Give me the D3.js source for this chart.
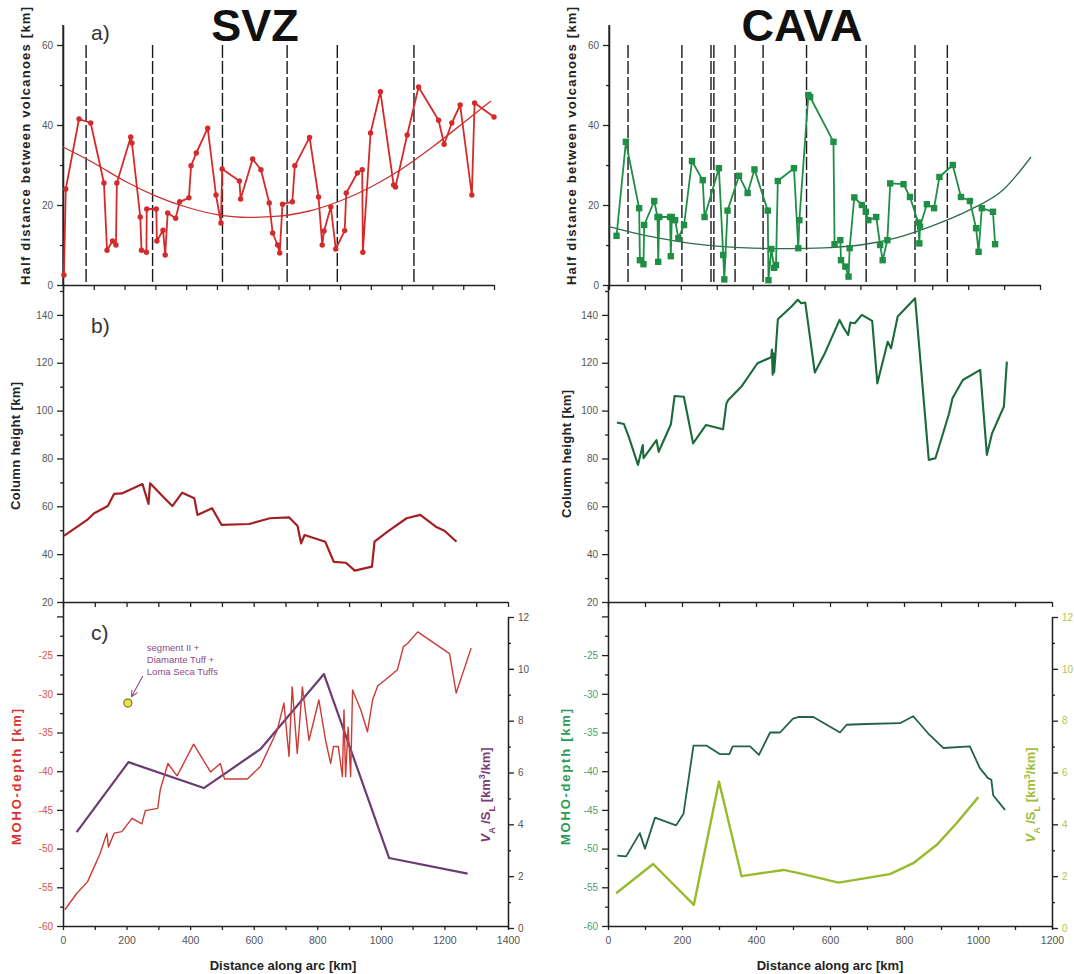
<!DOCTYPE html>
<html><head><meta charset="utf-8">
<script src="https://cdn.jsdelivr.net/npm/d3@7"></script>
<style>
body{margin:0;background:#fff}
svg{display:block}
text{font-family:"Liberation Sans",Arial,Helvetica,sans-serif}
</style>
</head><body>
<svg id="chart" width="1074" height="974"></svg>
<script>
// ---------------- DATA ----------------
// a) half distance between volcanoes [km]
const svzHalfKm  = [3, 9, 52, 90, 133, 143, 161, 172, 175, 220, 224, 251, 255, 271, 272, 303, 305, 325, 332, 340, 366, 379, 409, 416, 433, 470, 497, 513, 517, 573, 577, 616, 643, 670, 681, 697, 704, 713, 745, 753, 801, 830, 842, 848, 870, 886, 915, 920, 956, 972, 974, 999, 1031, 1074, 1080, 1118, 1155, 1220, 1238, 1263, 1290, 1328, 1337, 1400];
const svzHalfVal = [2.5, 24, 41.5, 40.5, 25.5, 8.7, 11, 10, 25.5, 37, 35.5, 17, 8.7, 8.2, 19, 19, 11, 13.7, 7.5, 18, 16.7, 20.8, 21.8, 29.8, 33, 39.2, 22.5, 15.5, 29, 26, 21.5, 31.5, 28.8, 20.5, 13, 10, 8, 20.2, 20.8, 29.8, 36.9, 22, 10, 13.5, 19.5, 9, 13.6, 23, 28, 28.8, 8.2, 38, 48.3, 25, 24.5, 37.5, 49.5, 41.2, 35.2, 40.5, 45, 22.5, 45.5, 42];
const svzTrendKm  = [0, 100, 200, 300, 400, 500, 600, 700, 800, 900, 1000, 1100, 1200, 1300, 1390];
const svzTrendVal = [34.5, 30.5, 26, 22.3, 19.5, 17.6, 16.9, 17.2, 18.5, 21, 24.5, 29, 34.5, 40.5, 46];
const svzSegKm = [75, 291, 518, 728, 891, 1140];

const cavaHalfKm  = [21, 47, 84, 86, 96, 98, 126, 135, 137, 140, 170, 172, 175, 184, 193, 209, 231, 261, 266, 306, 318, 321, 330, 362, 386, 405, 442, 444, 452, 460, 465, 470, 515, 527, 530, 555, 560, 625, 628, 644, 646, 658, 667, 670, 683, 704, 715, 722, 744, 755, 762, 775, 783, 820, 838, 861, 864, 866, 885, 905, 920, 957, 980, 1005, 1022, 1029, 1038, 1069, 1075];
const cavaHalfVal = [12.3, 35.8, 19.2, 6.2, 5.2, 15, 21, 17, 5.8, 17, 17, 7.2, 17, 16.2, 11.7, 15, 31, 26.2, 17, 29.2, 7.5, 1.4, 18.6, 27.3, 23, 28.9, 18.6, 1.2, 9, 4.3, 5, 26, 29.2, 9.2, 16.2, 47.5, 47, 35.8, 10.2, 11.2, 6.2, 4.6, 2.1, 9.2, 21.9, 20, 18.3, 16.2, 17, 10, 6.2, 11.2, 25.4, 25.2, 22, 15.6, 10.4, 14.6, 20.2, 19.2, 27, 30, 22, 21, 14.2, 8.3, 19.2, 18.3, 10.2];
const cavaTrendKm  = [0, 100, 200, 300, 400, 500, 600, 700, 800, 900, 1000, 1100, 1175];
const cavaTrendVal = [14.6, 12.4, 10.8, 9.7, 9.2, 9.1, 9.3, 10, 11.8, 14.8, 18.6, 24, 32];
const cavaSegKm = [53, 203, 284, 292, 351, 429, 550, 716, 852, 942];

// b) column height [km]
const svzColKm  = [3, 76, 98, 141, 161, 185, 250, 269, 274, 315, 344, 375, 413, 423, 469, 499, 586, 651, 711, 738, 749, 760, 825, 852, 890, 918, 972, 980, 1021, 1081, 1124, 1173, 1200, 1238];
const svzColVal = [47.6, 54.3, 57.1, 60.1, 65.2, 65.4, 69.3, 61, 69.6, 64, 60.1, 65.7, 63.4, 56.4, 59.2, 52.2, 52.6, 55, 55.4, 51.8, 44.5, 48, 45.2, 36.8, 36.4, 33.1, 34.8, 45.2, 49.4, 55, 56.4, 51.5, 49.8, 45.2];
const cavaColKm  = [24, 43, 56, 81, 94, 96, 131, 137, 170, 180, 205, 230, 265, 311, 320, 325, 362, 404, 441, 443, 445, 447, 449, 452, 459, 496, 513, 522, 533, 559, 584, 626, 635, 649, 655, 667, 686, 714, 728, 756, 765, 783, 830, 867, 885, 922, 931, 959, 1006, 1024, 1038, 1070, 1078];
const cavaColVal = [95, 94.4, 89.1, 77.3, 85.6, 80.1, 87.7, 82.8, 94.3, 106.1, 105.8, 86.3, 94, 92.2, 103, 104.4, 110.3, 119.8, 122.3, 125.5, 115, 124, 116, 122, 138.2, 143.5, 146.3, 144.9, 145.2, 115.9, 123.3, 137.9, 135.1, 131.6, 136.8, 136.5, 140, 137.5, 111.4, 128.8, 126, 139.3, 147, 79.4, 80.1, 98.9, 105.2, 112.8, 117, 81.5, 90.5, 101.7, 120.5];

// c) MOHO depth [km] and VA/SL [km3/km]
const svzMohoKm  = [6, 43, 77, 101, 117, 138, 143, 161, 185, 217, 248, 259, 298, 306, 330, 359, 411, 464, 495, 508, 580, 621, 674, 695, 711, 721, 737, 753, 774, 805, 826, 842, 851, 866, 879, 884, 889, 897, 905, 911, 937, 958, 974, 990, 1026, 1052, 1071, 1084, 1116, 1216, 1237, 1284];
const svzMohoVal = [-57.9, -55.8, -54.3, -52.1, -50.6, -48, -49.8, -48, -47.8, -46.1, -46.8, -45.1, -44.8, -42.4, -39, -40.6, -36.5, -40.1, -39, -41, -41, -39.4, -34.7, -31.2, -38.1, -29.1, -37.7, -29.1, -36, -30.8, -36, -39, -36.8, -36.8, -40.7, -32.1, -40.7, -34.3, -40.7, -29.5, -32.1, -34.9, -30.8, -29, -27.8, -26.9, -23.9, -23.5, -22, -24.8, -29.9, -24.1];
const svzVaKm  = [43, 206, 443, 621, 821, 1026, 1273];
const svzVaVal = [3.7, 6.4, 5.4, 6.9, 9.8, 2.7, 2.1];
const svzMarkerKm = [204];
const svzMarkerMoho = [-31.2];
const svzNote = ["segment II +", "Diamante Tuff +", "Loma Seca Tuffs"];

const cavaMohoKm  = [25, 49, 86, 100, 127, 184, 204, 231, 267, 303, 328, 337, 384, 408, 438, 465, 500, 514, 555, 627, 645, 699, 789, 825, 865, 906, 978, 1005, 1027, 1036, 1041, 1073];
const cavaMohoVal = [-50.9, -51, -48, -50, -46, -47, -45.5, -36.7, -36.7, -37.8, -37.8, -36.8, -36.8, -37.9, -35, -35, -33.2, -33, -33, -35, -34, -33.9, -33.8, -32.9, -35.1, -37, -36.8, -39.6, -40.9, -41.1, -43.1, -45];
const cavaVaKm  = [22, 122, 232, 300, 361, 474, 519, 623, 762, 825, 888, 942, 1001];
const cavaVaVal = [1.34, 2.47, 0.89, 5.65, 2.0, 2.24, 2.11, 1.75, 2.08, 2.5, 3.2, 4.04, 5.05];

// ticks
const halfTicks = [0, 20, 40, 60];
const halfMinor = [10, 30, 50];
const colTicks = [20, 40, 60, 80, 100, 120, 140];
const colMinor = [30, 50, 70, 90, 110, 130, 150];
const mohoTicks = [-60, -55, -50, -45, -40, -35, -30, -25, -20];
const mohoLabels = [-60, -55, -50, -45, -40, -35, -30, -25];
const mohoMinor = [-57.5, -52.5, -47.5, -42.5, -37.5, -32.5, -27.5, -22.5];
const vaTicks = [0, 2, 4, 6, 8, 10, 12];
const vaMinor = [1, 3, 5, 7, 9, 11];
const svzXTicks = [0, 200, 400, 600, 800, 1000, 1200, 1400];
const cavaXTicks = [0, 200, 400, 600, 800, 1000, 1200];
const svzXAll = d3.range(0, 1401, 100);
const cavaXAll = d3.range(0, 1201, 100);

// ---------------- DRAW ----------------
const svg = d3.select("#chart");
const FONT = '"Liberation Sans",Arial,Helvetica,sans-serif';
const AX = "#222";

// scales
const xSa = d3.scaleLinear().domain([0, 1400]).range([63, 494]);
const xSbc = d3.scaleLinear().domain([0, 1400]).range([63, 508]);
const xCa = d3.scaleLinear().domain([0, 1200]).range([609, 1040]);
const xCbc = d3.scaleLinear().domain([0, 1200]).range([608, 1052]);
const yA = d3.scaleLinear().domain([0, 65]).range([285, 25]);
const yB = d3.scaleLinear().domain([20, 152.5]).range([602, 285]);
const yC = d3.scaleLinear().domain([-60, -18.14]).range([926, 602]);
const yR = d3.scaleLinear().domain([0, 12]).range([928, 617]);

function styleAxis(g, color, size) {
  g.attr("font-family", FONT);
  g.selectAll("path.domain").attr("stroke", AX).attr("stroke-width", 1.3);
  g.selectAll(".tick line").attr("stroke", AX).attr("stroke-width", 1.3);
  g.selectAll(".tick text").attr("fill", color || "#555").style("font-size", (size || 10) + "px");
  return g;
}
function leftAxis(scale, x, majors, labels, minors, color) {
  styleAxis(svg.append("g").attr("transform", `translate(${x},0)`)
    .call(d3.axisLeft(scale).tickValues(majors).tickSize(6).tickSizeOuter(0).tickPadding(4)
      .tickFormat(d => labels.includes(d) ? String(d) : "")), color);
  styleAxis(svg.append("g").attr("transform", `translate(${x},0)`)
    .call(d3.axisLeft(scale).tickValues(minors).tickSize(3).tickSizeOuter(0).tickFormat("")));
}
function rightAxis(scale, x, majors, minors, color) {
  styleAxis(svg.append("g").attr("transform", `translate(${x},0)`)
    .call(d3.axisRight(scale).tickValues(majors).tickSize(6).tickSizeOuter(0).tickPadding(4)
      .tickFormat(d => String(d))), color);
  styleAxis(svg.append("g").attr("transform", `translate(${x},0)`)
    .call(d3.axisRight(scale).tickValues(minors).tickSize(3).tickSizeOuter(0).tickFormat("")));
}
function bottomAxis(scale, y, all, labels, color) {
  styleAxis(svg.append("g").attr("transform", `translate(0,${y})`)
    .call(d3.axisBottom(scale).tickValues(all).tickSize(labels ? 4 : 5).tickSizeOuter(0).tickPadding(7)
      .tickFormat(d => (labels && labels.includes(d)) ? String(d) : "")), color, 10.5);
}
function vTitle(txt, x, y, color, parts, len) {
  const t = svg.append("text").attr("transform", `translate(${x},${y}) rotate(-90)`)
    .attr("text-anchor", "middle").attr("font-weight", "bold").attr("font-size", 13)
    .attr("fill", color).attr("font-family", FONT);
  if (len) t.attr("textLength", len).attr("lengthAdjust", "spacing");
  if (parts) {
    parts.forEach(p => {
      const s = t.append("tspan").text(p.t);
      if (p.sub) s.attr("baseline-shift", "sub").attr("font-size", 9);
      if (p.sup) s.attr("baseline-shift", "super").attr("font-size", 9);
      if (p.it) s.attr("font-style", "italic");
    });
  } else t.text(txt);
}
const line = (xs, ys, curve) => d3.line().x(d => xs(d[0])).y(d => ys(d[1])).curve(curve || d3.curveLinear);

// ---- titles
svg.append("text").attr("x", 255).attr("y", 41).attr("text-anchor", "middle")
  .attr("font-size", 45).attr("font-weight", "bold").attr("fill", "#111").attr("font-family", FONT).text("SVZ");
svg.append("text").attr("x", 802).attr("y", 41).attr("text-anchor", "middle")
  .attr("font-size", 45).attr("font-weight", "bold").attr("fill", "#111").attr("font-family", FONT).text("CAVA");
[["a)", 91, 40], ["b)", 91, 333], ["c)", 91, 640]].forEach(([t, x, y]) =>
  svg.append("text").attr("x", x).attr("y", y).attr("font-size", 21).attr("fill", "#333")
    .attr("font-family", FONT).text(t));

// ---- panel a
function panelA(xs, segKm, km, val, tKm, tVal, color, trendColor, marker, axisX, ticks) {
  leftAxis(yA, axisX, halfTicks, halfTicks, halfMinor);
  svg.append("line").attr("x1", axisX).attr("x2", axisX).attr("y1", 25).attr("y2", yA(0)).attr("stroke", AX).attr("stroke-width", 1.3);
  bottomAxis(xs, 285, ticks, null);
  svg.selectAll(null).data(segKm).enter().append("line")
    .attr("x1", d => xs(d)).attr("x2", d => xs(d)).attr("y1", yA(60)).attr("y2", yA(0))
    .attr("stroke", "#1a1a1a").attr("stroke-width", 1.4).attr("stroke-dasharray", "13,3");
  svg.append("path").datum(d3.zip(tKm, tVal)).attr("d", line(xs, yA, d3.curveMonotoneX))
    .attr("fill", "none").attr("stroke", trendColor).attr("stroke-width", 1.3);
  svg.append("path").datum(d3.zip(km, val)).attr("d", line(xs, yA))
    .attr("fill", "none").attr("stroke", color).attr("stroke-width", 1.8).attr("stroke-linejoin", "round");
  const pts = d3.zip(km, val);
  if (marker === "circle") {
    svg.selectAll(null).data(pts).enter().append("circle")
      .attr("cx", d => xs(d[0])).attr("cy", d => yA(d[1])).attr("r", 2.7).attr("fill", color);
  } else {
    svg.selectAll(null).data(pts).enter().append("rect")
      .attr("x", d => xs(d[0]) - 3.2).attr("y", d => yA(d[1]) - 3.2).attr("width", 6.4).attr("height", 6.4).attr("fill", color);
  }
}
panelA(xSa, svzSegKm, svzHalfKm, svzHalfVal, svzTrendKm, svzTrendVal, "#d42a2a", "#cf3030", "circle", 63, svzXAll);
panelA(xCa, cavaSegKm, cavaHalfKm, cavaHalfVal, cavaTrendKm, cavaTrendVal, "#1f8f45", "#2f6b4c", "square", 609, cavaXAll);
vTitle("Half distance between volcanoes [km]", 30, 146, "#222", null, 278);
vTitle("Half distance between volcanoes [km]", 576, 146, "#222", null, 278);

// ---- panel b
leftAxis(yB, 63, colTicks, colTicks, colMinor);
leftAxis(yB, 608, colTicks, colTicks, colMinor);
bottomAxis(xSbc, 602, svzXAll, null);
bottomAxis(xCbc, 602, cavaXAll, null);
svg.append("path").datum(d3.zip(svzColKm, svzColVal)).attr("d", line(xSbc, yB))
  .attr("fill", "none").attr("stroke", "#a51f22").attr("stroke-width", 2.2).attr("stroke-linejoin", "round");
svg.append("path").datum(d3.zip(cavaColKm, cavaColVal)).attr("d", line(xCbc, yB))
  .attr("fill", "none").attr("stroke", "#1b6a3c").attr("stroke-width", 2.1).attr("stroke-linejoin", "round");
vTitle("Column height [km]", 20, 446, "#222", null, 128);
vTitle("Column height [km]", 571, 454, "#222", null, 128);

// ---- panel c
leftAxis(yC, 63, mohoTicks, mohoLabels, mohoMinor, "#d9534f");
leftAxis(yC, 608, mohoTicks, mohoLabels, mohoMinor, "#4c9f6a");
rightAxis(yR, 508, vaTicks, vaMinor, "#555");
rightAxis(yR, 1052, vaTicks, vaMinor, "#b3c64e");
bottomAxis(xSbc, 926, svzXAll, svzXTicks);
bottomAxis(xCbc, 926, cavaXAll, cavaXTicks);

svg.append("path").datum(d3.zip(svzVaKm, svzVaVal)).attr("d", line(xSbc, yR))
  .attr("fill", "none").attr("stroke", "#6b3c72").attr("stroke-width", 2.2).attr("stroke-linejoin", "round");
svg.append("path").datum(d3.zip(svzMohoKm, svzMohoVal)).attr("d", line(xSbc, yC))
  .attr("fill", "none").attr("stroke", "#cc3a36").attr("stroke-width", 1.4).attr("stroke-linejoin", "round");
svg.append("path").datum(d3.zip(cavaMohoKm, cavaMohoVal)).attr("d", line(xCbc, yC))
  .attr("fill", "none").attr("stroke", "#22614a").attr("stroke-width", 1.8).attr("stroke-linejoin", "round");
svg.append("path").datum(d3.zip(cavaVaKm, cavaVaVal)).attr("d", line(xCbc, yR))
  .attr("fill", "none").attr("stroke", "#98bb2e").attr("stroke-width", 2.4).attr("stroke-linejoin", "round");

// marker + annotation
svg.selectAll(null).data(d3.zip(svzMarkerKm, svzMarkerMoho)).enter().append("circle")
  .attr("cx", d => xSbc(d[0])).attr("cy", d => yC(d[1])).attr("r", 4)
  .attr("fill", "#e9e64a").attr("stroke", "#7a7a1a").attr("stroke-width", 1.2);
svg.append("defs").append("marker").attr("id", "arr").attr("viewBox", "0 0 10 10").attr("refX", 9).attr("refY", 5)
  .attr("markerWidth", 6).attr("markerHeight", 6).attr("orient", "auto")
  .append("path").attr("d", "M0,0 L10,5 L0,10").attr("fill", "none").attr("stroke", "#8b4a86").attr("stroke-width", 1.5);
const mx = xSbc(svzMarkerKm[0]), my = yC(svzMarkerMoho[0]);
svg.append("line").attr("x1", mx + 15).attr("y1", my - 27).attr("x2", mx + 4).attr("y2", my - 7)
  .attr("stroke", "#8b4a86").attr("stroke-width", 1.1).attr("marker-end", "url(#arr)");
svg.append("text").attr("font-size", 9.5).attr("fill", "#8b4a86").attr("font-family", FONT)
  .selectAll("tspan").data(svzNote).enter().append("tspan")
  .attr("x", mx + 19).attr("y", (d, i) => my - 52 + i * 12).text(d => d);

vTitle("MOHO-depth [km]", 21, 777, "#d8302e", null, 136);
vTitle("MOHO-depth [km]", 570, 777, "#2a9a55", null, 136);
const vaParts = [{t: "V", it: true}, {t: "A", sub: true}, {t: " /S", it: false}, {t: "L", sub: true}, {t: " [km"}, {t: "3", sup: true}, {t: "/km]"}];
vTitle(null, 490, 795, "#7a3b78", vaParts);
vTitle(null, 1035, 795, "#9dbd3a", vaParts);

svg.append("text").attr("x", 283).attr("y", 970).attr("text-anchor", "middle").attr("font-size", 13)
  .attr("font-weight", "bold").attr("fill", "#222").attr("font-family", FONT).text("Distance along arc [km]");
svg.append("text").attr("x", 830).attr("y", 970).attr("text-anchor", "middle").attr("font-size", 13)
  .attr("font-weight", "bold").attr("fill", "#222").attr("font-family", FONT).text("Distance along arc [km]");
</script>
</body></html>
